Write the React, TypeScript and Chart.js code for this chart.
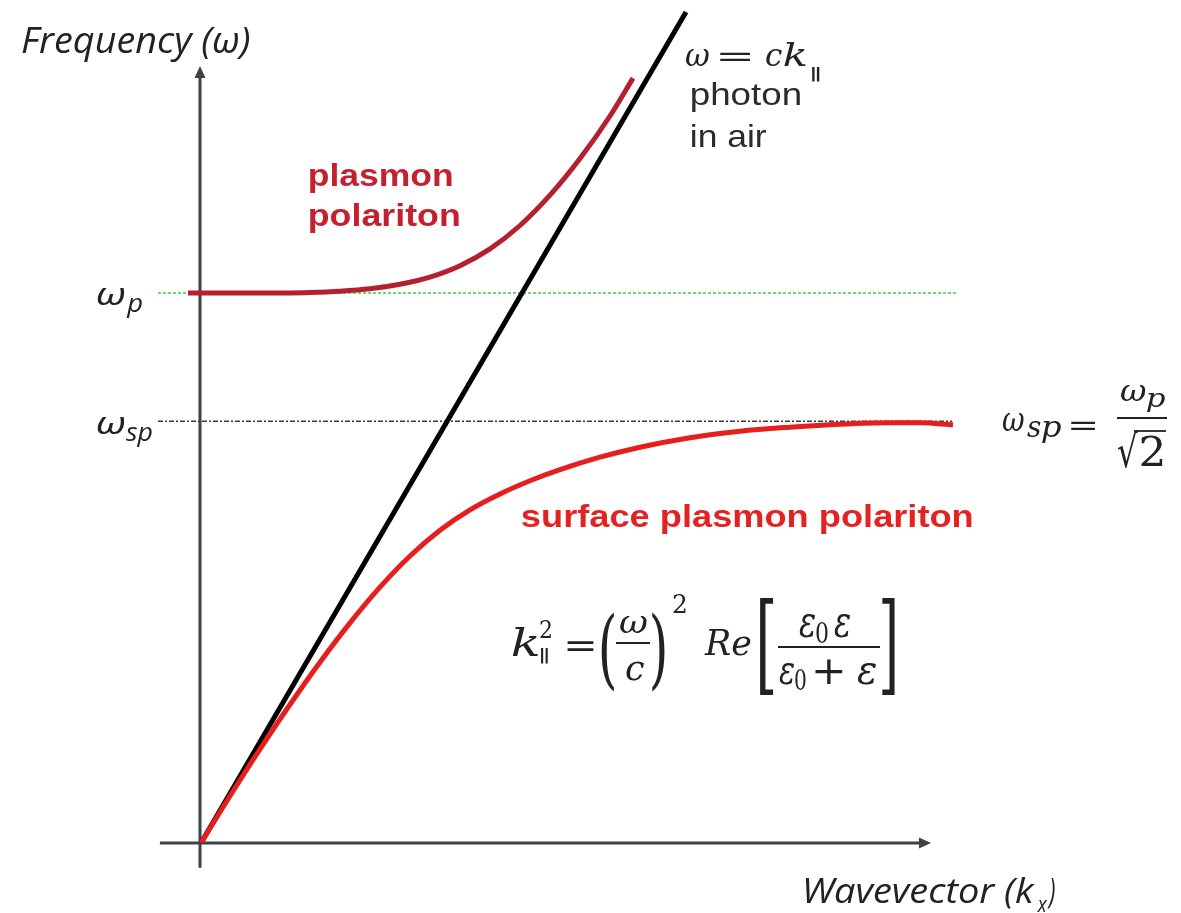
import { useEffect, useRef } from 'react';
import { Chart, registerables } from 'chart.js';

Chart.register(...registerables);

// Axis ranges (frequency in units of ω_p, wavevector in units of ω_p / c)
const K_AXIS_MIN = 0;
const K_AXIS_MAX = 2.271;
const W_AXIS_MIN = 0;
const W_AXIS_MAX = 1.4127;
const K_AXIS_TAIL = -0.128;
const W_AXIS_TAIL = -0.045;

// Reference levels
const OMEGA_P = 1.0;
const OMEGA_SP = 0.767;
const REF_K_START = -0.134;
const OMEGA_P_K_END = 2.358;
const OMEGA_SP_K_END = 2.34;

// Light line ω = c k
const PHOTON_K = [0, 1.511];
const PHOTON_W = [0, 1.511];

// Bulk plasmon polariton branch
const PP_K = [-0.0405, 0.0592, 0.1526, 0.2461, 0.3396, 0.433, 0.5265, 0.6199, 0.7134, 0.8069, 0.9003, 0.9938, 1.0872, 1.1807, 1.2741, 1.3458];
const PP_W = [1.0, 1.0, 1.0, 1.0002, 1.0011, 1.0033, 1.0076, 1.0158, 1.0289, 1.0496, 1.0802, 1.1227, 1.1778, 1.2444, 1.3218, 1.3907];

// Surface plasmon polariton branch
const SPP_K = [0, 0.0903, 0.1838, 0.2773, 0.3707, 0.4642, 0.5576, 0.6511, 0.7445, 0.838, 0.9315, 1.0249, 1.1184, 1.243, 1.3676, 1.5234, 1.6791, 1.8349, 1.9907, 2.1464, 2.2399, 2.3427];
const SPP_W = [0, 0.0855, 0.1705, 0.2518, 0.3287, 0.4002, 0.4651, 0.5218, 0.5687, 0.6058, 0.6347, 0.6587, 0.6789, 0.7015, 0.7196, 0.7369, 0.7487, 0.756, 0.7615, 0.7642, 0.7642, 0.7605];

const AXIS_COLOR = '#3d4247';
const INK = '#222222';
const PP_COLOR = '#b5202e';
const SPP_COLOR = '#e61e1e';
const PP_LABEL = '#c4212f';
const SPP_LABEL = '#e32222';

const MATH_I = (s: number) => `italic ${s}px "DejaVu Serif"`;
const MATH = (s: number) => `${s}px "DejaVu Serif"`;
const SANS_I = (s: number) => `italic ${s}px "Open Sans"`;
const ARIAL = (s: number) => `${s}px "Liberation Sans"`;
const ARIAL_B = (s: number) => `bold ${s}px "Liberation Sans"`;

const pts = (xs: number[], ys: number[]) => xs.map((x, i) => ({ x, y: ys[i] }));

// Draw a glyph run so that its ink fills the given box
function fitBox(ctx: CanvasRenderingContext2D, s: string, x0: number, y0: number, x1: number, y1: number, font: string, color: string) {
  ctx.save();
  ctx.font = font;
  ctx.fillStyle = color;
  ctx.textAlign = 'left';
  ctx.textBaseline = 'alphabetic';
  const m = ctx.measureText(s);
  const w = m.actualBoundingBoxLeft + m.actualBoundingBoxRight;
  const h = m.actualBoundingBoxAscent + m.actualBoundingBoxDescent;
  ctx.translate(x0, y0);
  ctx.scale((x1 - x0) / w, (y1 - y0) / h);
  ctx.fillText(s, m.actualBoundingBoxLeft, m.actualBoundingBoxAscent);
  ctx.restore();
}

// Draw text on a baseline, stretched horizontally so its ink spans the given width
function fitWidth(ctx: CanvasRenderingContext2D, s: string, x: number, y: number, width: number, font: string, color: string) {
  ctx.save();
  ctx.font = font;
  ctx.fillStyle = color;
  ctx.textAlign = 'left';
  ctx.textBaseline = 'alphabetic';
  const m = ctx.measureText(s);
  const w = m.actualBoundingBoxLeft + m.actualBoundingBoxRight;
  ctx.translate(x, y);
  ctx.scale(width / w, 1);
  ctx.fillText(s, m.actualBoundingBoxLeft, 0);
  ctx.restore();
}

function hLine(ctx: CanvasRenderingContext2D, x0: number, x1: number, y: number, w: number, color: string) {
  ctx.save();
  ctx.strokeStyle = color;
  ctx.lineWidth = w;
  ctx.beginPath();
  ctx.moveTo(x0, y);
  ctx.lineTo(x1, y);
  ctx.stroke();
  ctx.restore();
}

const diagramPlugin = {
  id: 'dispersionDiagram',
  beforeDatasetsDraw(chart: any) {
    const ctx: CanvasRenderingContext2D = chart.ctx;
    const xs = chart.scales.x;
    const ys = chart.scales.y;
    const ox = xs.getPixelForValue(0);
    const oy = ys.getPixelForValue(0);
    const xEnd = xs.getPixelForValue(K_AXIS_MAX);
    const yEnd = ys.getPixelForValue(W_AXIS_MAX);
    ctx.save();
    ctx.strokeStyle = AXIS_COLOR;
    ctx.fillStyle = AXIS_COLOR;
    ctx.lineWidth = 3;
    ctx.beginPath();
    ctx.moveTo(xs.getPixelForValue(K_AXIS_TAIL), oy);
    ctx.lineTo(xEnd - 10, oy);
    ctx.moveTo(ox - 1, ys.getPixelForValue(W_AXIS_TAIL));
    ctx.lineTo(ox - 1, yEnd + 10);
    ctx.stroke();
    ctx.beginPath();
    ctx.moveTo(xEnd + 1, oy);
    ctx.lineTo(xEnd - 11, oy - 5.5);
    ctx.lineTo(xEnd - 11, oy + 5.5);
    ctx.closePath();
    ctx.moveTo(ox - 1, yEnd);
    ctx.lineTo(ox - 6.5, yEnd + 12);
    ctx.lineTo(ox + 4.5, yEnd + 12);
    ctx.closePath();
    ctx.fill();
    ctx.restore();
  },
  afterDatasetsDraw(chart: any) {
    const ctx: CanvasRenderingContext2D = chart.ctx;

    // axis titles
    fitWidth(ctx, 'Frequency (ω)', 22, 53, 228, SANS_I(37), INK);
    fitWidth(ctx, 'Wavevector (k', 805, 903, 230, SANS_I(34), INK);
    fitWidth(ctx, 'x', 1037, 912, 11, SANS_I(22), INK);
    fitWidth(ctx, ')', 1047, 903, 8, SANS_I(34), INK);

    // level labels on the frequency axis
    fitBox(ctx, 'ω', 97, 288, 125, 305, SANS_I(34), INK);
    fitBox(ctx, 'p', 126, 298, 142, 318, SANS_I(24), INK);
    fitBox(ctx, 'ω', 97, 417, 125, 434, SANS_I(34), INK);
    fitBox(ctx, 'sp', 126, 427, 152, 447, SANS_I(24), INK);

    // light line label: ω = c k∥
    fitBox(ctx, 'ω', 685, 49, 709, 66, MATH_I(33), INK);
    fitBox(ctx, '=', 720, 52, 750, 61, MATH(30), INK);
    fitBox(ctx, 'c', 766, 49, 782, 66, MATH_I(33), INK);
    fitBox(ctx, 'k', 784, 42, 806, 66, MATH_I(32), INK);
    fitBox(ctx, '∥', 812, 67, 821, 82, MATH(20), INK);
    fitWidth(ctx, 'photon', 692, 105, 108, ARIAL(32), '#2b2b2b');
    fitWidth(ctx, 'in air', 692, 147, 75, ARIAL(32), '#2b2b2b');

    // branch names
    fitWidth(ctx, 'plasmon', 310, 186, 142, ARIAL_B(32), PP_LABEL);
    fitWidth(ctx, 'polariton', 310, 226, 149, ARIAL_B(32), PP_LABEL);
    fitWidth(ctx, 'surface plasmon polariton', 522, 527, 450, ARIAL_B(32), SPP_LABEL);

    // ω_sp = ω_p / √2
    fitBox(ctx, 'ω', 1002, 413, 1024, 431, MATH_I(34), INK);
    fitBox(ctx, 's', 1027, 421, 1041, 437, MATH_I(26), INK);
    fitBox(ctx, 'p', 1042, 421, 1062, 443, MATH_I(26), INK);
    fitBox(ctx, '=', 1071, 421, 1095, 430, MATH(30), INK);
    fitBox(ctx, 'ω', 1120, 385, 1146, 401, MATH_I(30), INK);
    fitBox(ctx, 'p', 1147, 393, 1165, 412, MATH_I(24), INK);
    hLine(ctx, 1117, 1167, 418, 2, INK);
    fitBox(ctx, '√', 1118, 430, 1138, 468, MATH(34), INK);
    hLine(ctx, 1134, 1166, 431, 1.8, INK);
    fitBox(ctx, '2', 1141, 437, 1163, 466, MATH(36), INK);

    // k∥² = (ω/c)² Re[ε0 ε / (ε0 + ε)]
    fitBox(ctx, 'k', 512, 627, 538, 656, MATH_I(38), INK);
    fitBox(ctx, '2', 540, 621, 551, 638, MATH(22), INK);
    fitBox(ctx, '∥', 541, 648, 549, 664, MATH(20), INK);
    fitBox(ctx, '=', 567, 640, 594, 650, MATH(32), INK);
    fitBox(ctx, '(', 601, 612, 614, 692, MATH(62), INK);
    fitBox(ctx, 'ω', 619, 616, 647, 633, MATH_I(33), INK);
    hLine(ctx, 616, 650, 643, 2, INK);
    fitBox(ctx, 'c', 626, 661, 644, 680, MATH_I(33), INK);
    fitBox(ctx, ')', 652, 612, 665, 692, MATH(62), INK);
    fitBox(ctx, '2', 673, 595, 686, 613, MATH(23), INK);
    fitBox(ctx, 'Re', 704, 629, 751, 656, MATH_I(37), INK);
    fitBox(ctx, '[', 760, 599, 773, 695, MATH(70), INK);
    fitBox(ctx, 'ε', 799, 613, 815, 637, MATH_I(34), INK);
    fitBox(ctx, '0', 816, 623, 828, 643, MATH(22), INK);
    fitBox(ctx, 'ε', 834, 613, 850, 637, MATH_I(34), INK);
    hLine(ctx, 778, 880, 647, 2, INK);
    fitBox(ctx, 'ε', 779, 662, 794, 684, MATH_I(34), INK);
    fitBox(ctx, '0', 795, 670, 806, 690, MATH(22), INK);
    fitBox(ctx, '+', 815, 659, 843, 684, MATH(32), INK);
    fitBox(ctx, 'ε', 857, 662, 876, 684, MATH_I(34), INK);
    fitBox(ctx, ']', 882, 599, 895, 695, MATH(70), INK);
  },
};

export default function App() {
  const canvasRef = useRef<HTMLCanvasElement>(null);

  useEffect(() => {
    const canvas = canvasRef.current;
    if (!canvas) return;
    const chart = new Chart(canvas, {
      type: 'scatter',
      data: {
        datasets: [
          {
            label: 'surface plasmon polariton',
            data: pts(SPP_K, SPP_W),
            showLine: true,
            borderColor: SPP_COLOR,
            borderWidth: 5,
            pointRadius: 0,
            cubicInterpolationMode: 'monotone',
            borderCapStyle: 'butt',
            clip: false,
            order: 1,
          },
          {
            label: 'plasmon polariton',
            data: pts(PP_K, PP_W),
            showLine: true,
            borderColor: PP_COLOR,
            borderWidth: 5,
            pointRadius: 0,
            cubicInterpolationMode: 'monotone',
            borderCapStyle: 'butt',
            clip: false,
            order: 2,
          },
          {
            label: 'photon in air',
            data: pts(PHOTON_K, PHOTON_W),
            showLine: true,
            borderColor: '#000000',
            borderWidth: 5,
            pointRadius: 0,
            clip: false,
            order: 3,
          },
          {
            label: 'ω_p',
            data: [{ x: REF_K_START, y: OMEGA_P }, { x: OMEGA_P_K_END, y: OMEGA_P }],
            showLine: true,
            borderColor: '#46c846',
            borderWidth: 1.5,
            borderDash: [3, 2],
            pointRadius: 0,
            clip: false,
            order: 4,
          },
          {
            label: 'ω_sp',
            data: [{ x: REF_K_START, y: OMEGA_SP }, { x: OMEGA_SP_K_END, y: OMEGA_SP }],
            showLine: true,
            borderColor: '#3a3a3a',
            borderWidth: 1.5,
            borderDash: [5, 2, 2, 2],
            pointRadius: 0,
            clip: false,
            order: 5,
          },
        ],
      },
      options: {
        responsive: false,
        animation: false,
        layout: { padding: { left: 201, right: 251, top: 66, bottom: 70 } },
        plugins: {
          legend: { display: false },
          tooltip: { enabled: false },
        },
        scales: {
          x: { type: 'linear', display: false, min: K_AXIS_MIN, max: K_AXIS_MAX },
          y: { type: 'linear', display: false, min: W_AXIS_MIN, max: W_AXIS_MAX },
        },
      },
      plugins: [diagramPlugin],
    } as any);
    return () => chart.destroy();
  }, []);

  return (
    <div style={{ position: 'fixed', left: 0, top: 0, width: 1181, height: 913, background: '#ffffff' }}>
      <canvas ref={canvasRef} width={1181} height={913} style={{ display: 'block' }} />
    </div>
  );
}
